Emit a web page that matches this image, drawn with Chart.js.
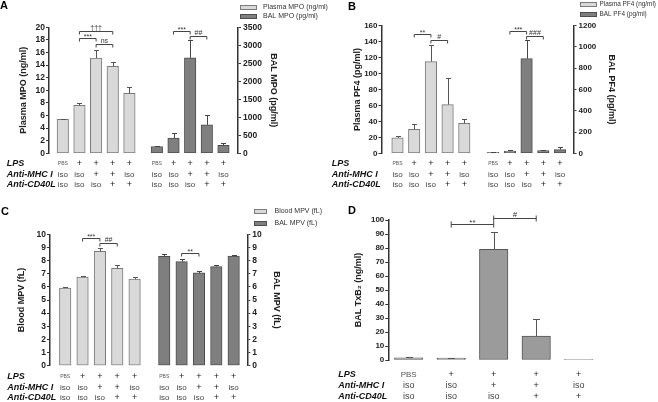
<!DOCTYPE html>
<html><head><meta charset="utf-8">
<script src="https://cdn.jsdelivr.net/npm/chart.js@4.4.1/dist/chart.umd.min.js"></script>
<style>
html,body{margin:0;padding:0;background:#fff;}
#fig{position:relative;width:658px;height:402px;overflow:hidden;background:#fff;}
#fig canvas{position:absolute;left:0;top:0;}
</style></head><body>
<div id="fig">
<canvas id="cA" width="658" height="402"></canvas>
<canvas id="cB" width="658" height="402"></canvas>
<canvas id="cC" width="658" height="402"></canvas>
<canvas id="cD" width="658" height="402"></canvas>
</div>
<script>
// ---------- data ----------
const rowLabels = ['LPS', 'Anti-MHC I', 'Anti-CD40L'];
const lpsRow   = ['PBS', '+', '+', '+', '+'];
const mhcRow   = ['iso', 'iso', '+', '+', 'iso'];
const cd40lRow = ['iso', 'iso', 'iso', '+', '+'];

// Panel A
const plasmaMPO    = [5.4, 7.6, 15.1, 13.8, 9.5];
const plasmaMPOErr = [0.1, 0.4, 1.3, 0.7, 1.1];
const balMPO       = [190, 420, 2650, 790, 220];
const balMPOErr    = [20, 140, 510, 270, 80];
const mpoLeftTicks  = [0, 2, 4, 6, 8, 10, 12, 14, 16, 18, 20];
const mpoRightTicks = [0, 500, 1000, 1500, 2000, 2500, 3000, 3500];
const mpoBrackets = [
  {series: 0, from: 1, to: 3, at: 19.4, text: '†††'},
  {series: 0, from: 1, to: 2, at: 18.25, text: '***'},
  {series: 0, from: 2, to: 3, at: 17.3, text: 'ns'},
  {series: 1, from: 1, to: 2, at: 3397, text: '***'},
  {series: 1, from: 2, to: 3, at: 3258, text: '##'}
];

// Panel B
const plasmaPF4    = [19.5, 30, 115, 61, 37.5];
const plasmaPF4Err = [2, 7, 21, 33, 5.5];
const balPF4       = [8, 22, 890, 25, 35];
const balPF4Err    = [3, 8, 175, 8, 25];
const pf4LeftTicks  = [0, 20, 40, 60, 80, 100, 120, 140, 160];
const pf4RightTicks = [0, 200, 400, 600, 800, 1000, 1200];
const pf4Brackets = [
  {series: 0, from: 1, to: 2, at: 149.3, text: '**'},
  {series: 0, from: 2, to: 3, at: 142.2, text: '#'},
  {series: 1, from: 1, to: 2, at: 1153, text: '***'},
  {series: 1, from: 2, to: 3, at: 1106, text: '###'}
];

// Panel C
const bloodMPV    = [5.91, 6.75, 8.71, 7.41, 6.60];
const bloodMPVErr = [0.07, 0.07, 0.26, 0.24, 0.12];
const balMPV      = [8.32, 7.92, 7.06, 7.54, 8.35];
const balMPVErr   = [0.15, 0.22, 0.12, 0.1, 0.05];
const mpvTicks    = [0, 1, 2, 3, 4, 5, 6, 7, 8, 9, 10];
const mpvBrackets = [
  {series: 0, from: 1, to: 2, at: 9.74, text: '***'},
  {series: 0, from: 2, to: 3, at: 9.36, text: '##'},
  {series: 1, from: 1, to: 2, at: 8.6, text: '**'}
];

// Panel D
const balTxB2    = [1.5, 1.3, 79, 17, 0.3];
const balTxB2Err = [0.5, 0.4, 12.5, 12, 0];
const txbTicks   = [0, 10, 20, 30, 40, 50, 60, 70, 80, 90, 100];
const txbBrackets = [
  {series: 0, from: 1, to: 2, at: 97.1, text: '**'},
  {series: 0, from: 2, to: 3, at: 101.2, text: '#'}
];

// ---------- styling / layout ----------
const FONT = '"Liberation Sans", Arial, Helvetica, sans-serif';
const W = 658;
const LIGHT = {fill: '#d9d9d9', border: '#7a7a7a', err: '#555'};
const DARK  = {fill: '#7f7f7f', border: '#4d4d4d', err: '#444'};
const MID   = {fill: '#9b9b9b', border: '#555', err: '#555'};
const TITLE_SIZE = 9;
const rows = [lpsRow, mhcRow, cd40lRow];

function annotPlugin(spec) {
  return {
    id: 'annot',
    afterDraw(chart) {
      const ctx = chart.ctx;
      const xs = chart.scales.x;
      ctx.save();
      // error bars
      spec.series.forEach(s => {
        const ys = chart.scales[s.axis];
        s.values.forEach((v, i) => {
          const e = s.errs[i];
          if (!e) return;
          const x = Math.round(xs.getPixelForValue(s.start + i)) + 0.5;
          const yTop = ys.getPixelForValue(v);
          const yE = Math.round(ys.getPixelForValue(v + e)) + 0.5;
          ctx.strokeStyle = s.style.err; ctx.lineWidth = 1;
          ctx.beginPath();
          ctx.moveTo(x, yTop); ctx.lineTo(x, yE);
          ctx.moveTo(x - spec.capW / 2, yE); ctx.lineTo(x + spec.capW / 2, yE);
          ctx.stroke();
        });
      });
      // significance brackets
      spec.brackets.forEach(b => {
        const s = spec.series[b.series];
        const ys = chart.scales[s.axis];
        const x1 = xs.getPixelForValue(s.start + b.from);
        const x2 = xs.getPixelForValue(s.start + b.to);
        const y = Math.round(ys.getPixelForValue(b.at)) + 0.5;
        ctx.strokeStyle = '#444'; ctx.lineWidth = 1;
        ctx.beginPath();
        ctx.moveTo(x1, y); ctx.lineTo(x2, y);
        if (spec.bracketStyle === 'I') {
          ctx.moveTo(x1, y - 3); ctx.lineTo(x1, y + 3);
          ctx.moveTo(x2, y - 3); ctx.lineTo(x2, y + 3);
        } else {
          ctx.moveTo(x1, y); ctx.lineTo(x1, y + 3);
          ctx.moveTo(x2, y); ctx.lineTo(x2, y + 3);
        }
        ctx.stroke();
        ctx.fillStyle = '#333';
        ctx.font = spec.bracketFont;
        ctx.textAlign = 'center'; ctx.textBaseline = 'alphabetic';
        const lift = (b.text.indexOf('*') >= 0) ? 0 : 2;
        ctx.fillText(b.text, (x1 + x2) / 2, y - lift);
      });
      // treatment table
      rows.forEach((row, r) => {
        const y = spec.rowY[r];
        ctx.font = spec.rowLabelFont; ctx.fillStyle = '#111';
        ctx.textAlign = 'left'; ctx.textBaseline = 'middle';
        ctx.fillText(rowLabels[r], spec.rowLabelX, y);
        spec.series.forEach(s => {
          row.forEach((t, i) => {
            const x = xs.getPixelForValue(s.start + i);
            ctx.textAlign = 'center';
            if (t === 'PBS') { ctx.font = spec.pbsFont; ctx.fillStyle = '#555'; }
            else if (t === '+') { ctx.font = spec.plusFont; ctx.fillStyle = '#222'; }
            else { ctx.font = spec.isoFont; ctx.fillStyle = '#444'; }
            ctx.fillText(t, x, y);
          });
        });
      });
      // legend
      if (spec.legend) {
        const L = spec.legend;
        spec.series.forEach((s, k) => {
          const y = L.ys[k];
          ctx.fillStyle = s.style.fill; ctx.strokeStyle = s.style.border; ctx.lineWidth = 1;
          ctx.fillRect(L.boxX, Math.round(y - L.boxH / 2), L.boxW, L.boxH);
          ctx.strokeRect(L.boxX + 0.5, Math.round(y - L.boxH / 2) + 0.5, L.boxW - 1, L.boxH - 1);
          ctx.fillStyle = '#333'; ctx.font = L.font + 'px ' + FONT;
          ctx.textAlign = 'left'; ctx.textBaseline = 'middle';
          ctx.fillText(s.label, L.textX, y);
        });
      }
      // panel letter
      ctx.fillStyle = '#000'; ctx.font = 'bold 11px ' + FONT;
      ctx.textAlign = 'left'; ctx.textBaseline = 'top';
      ctx.fillText(spec.letter.text, spec.letter.x, spec.letter.y);
      ctx.restore();
    }
  };
}

function yAxis(pos, ticks, title, width, tickPad, tickSize) {
  return {
    position: pos, min: ticks[0], max: ticks[ticks.length - 1],
    afterBuildTicks: s => { s.ticks = ticks.map(v => ({value: v})); },
    afterFit: s => { s.width = width; },
    ticks: {font: {family: FONT, size: tickSize, weight: 'bold'}, color: '#222', padding: tickPad,
            autoSkip: false, callback: v => String(v)},
    grid: {display: true, drawOnChartArea: false, drawTicks: true, tickLength: 3, color: '#333', tickColor: '#333', tickWidth: 1},
    border: {display: true, color: '#333', width: 1.5},
    title: {display: true, text: title, color: '#222', padding: 0,
            font: {family: FONT, size: TITLE_SIZE, weight: 'bold'}}
  };
}

function buildPanel(spec) {
  const lh = TITLE_SIZE * 1.2;
  const padLeft = spec.leftTitleX - lh / 2;
  const yLW = spec.leftAxisX - padLeft;
  const rightSeries = spec.series.find(s => s.axis === 'yR');
  let padRight, yRW, rightEdge;
  if (rightSeries) {
    const re = spec.rightTitleX + lh / 2;
    padRight = W - re; yRW = re - spec.rightAxisX; rightEdge = spec.rightAxisX;
  } else {
    padRight = W - spec.plotRight; rightEdge = spec.plotRight;
  }
  const xmin = (spec.leftAxisX - spec.x0) / spec.unit;
  const xmax = (rightEdge - spec.x0) / spec.unit;
  const scales = {
    x: {type: 'linear', min: xmin, max: xmax, display: false, offset: false, bounds: 'data',
        afterBuildTicks: s => { s.min = xmin; s.max = xmax; s.ticks = [{value: xmin}, {value: xmax}]; }},
    yL: yAxis('left', spec.leftTicks, spec.leftTitle, yLW, 1, spec.tickSize)
  };
  if (rightSeries) scales.yR = yAxis('right', spec.rightTicks, spec.rightTitle, yRW, 2, spec.tickSize);
  const datasets = spec.series.map(s => ({
    label: s.label,
    data: s.values.map((v, i) => ({x: s.start + i, y: v})),
    yAxisID: s.axis,
    backgroundColor: s.style.fill, borderColor: s.style.border,
    borderWidth: 1, borderSkipped: false,
    barThickness: spec.barW, maxBarThickness: spec.barW, grouped: false
  }));
  new Chart(document.getElementById(spec.canvas), {
    type: 'bar',
    data: {datasets},
    options: {
      responsive: false, animation: false, devicePixelRatio: 1,
      layout: {padding: {left: padLeft, right: padRight, top: spec.top, bottom: 402 - spec.bottom}},
      plugins: {legend: {display: false}, tooltip: {enabled: false}},
      scales
    },
    plugins: [annotPlugin(spec)]
  });
}

const smallTable = {
  rowLabelFont: 'bold italic 9px ' + FONT,
  pbsFont: '5px ' + FONT, plusFont: '9px ' + FONT, isoFont: '8px ' + FONT,
  bracketFont: '7px ' + FONT, capW: 5, barW: 11.5
};

buildPanel(Object.assign({}, smallTable, {
  canvas: 'cA', letter: {text: 'A', x: 0, y: 0}, tickSize: 8.5,
  leftAxisX: 49, rightAxisX: 238, top: 27.3, bottom: 153.3,
  leftTitleX: 23.3, rightTitleX: 273.3,
  x0: 62.8, unit: 16.65,
  leftTicks: mpoLeftTicks, rightTicks: mpoRightTicks,
  leftTitle: 'Plasma MPO (ng/ml)', rightTitle: 'BAL MPO (pg/ml)',
  series: [
    {label: 'Plasma MPO (ng/ml)', values: plasmaMPO, errs: plasmaMPOErr, axis: 'yL', start: 0, style: LIGHT},
    {label: 'BAL MPO (pg/ml)', values: balMPO, errs: balMPOErr, axis: 'yR', start: 5.65, style: DARK}
  ],
  brackets: mpoBrackets,
  rowY: [164, 175, 185], rowLabelX: 6.7,
  legend: {boxX: 240, boxW: 17, boxH: 5, textX: 263, ys: [7.3, 16], font: 7}
}));

buildPanel(Object.assign({}, smallTable, {
  canvas: 'cB', letter: {text: 'B', x: 348, y: 1}, tickSize: 8,
  leftAxisX: 381.5, rightAxisX: 573.5, top: 25.7, bottom: 153.3,
  leftTitleX: 357.5, rightTitleX: 611,
  x0: 397.5, unit: 16.7,
  leftTicks: pf4LeftTicks, rightTicks: pf4RightTicks,
  leftTitle: 'Plasma PF4 (pg/ml)', rightTitle: 'BAL PF4 (pg/ml)',
  series: [
    {label: 'Plasma PF4 (ng/ml)', values: plasmaPF4, errs: plasmaPF4Err, axis: 'yL', start: 0, style: LIGHT},
    {label: 'BAL PF4 (pg/ml)', values: balPF4, errs: balPF4Err, axis: 'yR', start: 5.73, style: DARK}
  ],
  brackets: pf4Brackets,
  rowY: [164, 174.7, 184.3], rowLabelX: 331.7,
  legend: {boxX: 580, boxW: 17, boxH: 5, textX: 599.5, ys: [4.7, 14.3], font: 6.4}
}));

buildPanel(Object.assign({}, smallTable, {
  canvas: 'cC', letter: {text: 'C', x: 1, y: 206}, tickSize: 8.5,
  leftAxisX: 50, rightAxisX: 247.3, top: 234.3, bottom: 365.7,
  leftTitleX: 21.7, rightTitleX: 276.7,
  x0: 65.2, unit: 17.35,
  leftTicks: mpvTicks, rightTicks: mpvTicks,
  leftTitle: 'Blood MPV (fL)', rightTitle: 'BAL MPV (fL)',
  series: [
    {label: 'Blood MPV (fL)', values: bloodMPV, errs: bloodMPVErr, axis: 'yL', start: 0, style: LIGHT},
    {label: 'BAL MPV (fL)', values: balMPV, errs: balMPVErr, axis: 'yR', start: 5.71, style: DARK}
  ],
  brackets: mpvBrackets,
  rowY: [376.7, 387.7, 397.7], rowLabelX: 7.3,
  legend: {boxX: 254, boxW: 13, boxH: 5, textX: 274.5, ys: [211, 223.3], font: 7}
}));

buildPanel({
  canvas: 'cD', letter: {text: 'D', x: 348, y: 205}, tickSize: 8,
  rowLabelFont: 'bold italic 9px ' + FONT,
  pbsFont: '8px ' + FONT, plusFont: '9px ' + FONT, isoFont: '9px ' + FONT,
  bracketFont: '8px ' + FONT, capW: 7, barW: 28.5, bracketStyle: 'I',
  leftAxisX: 388.3, plotRight: 600, top: 220, bottom: 360,
  leftTitleX: 358.3,
  x0: 408.7, unit: 42.5,
  leftTicks: txbTicks,
  leftTitle: 'BAL TxB₂ (ng/ml)',
  series: [
    {label: 'BAL TxB2', values: balTxB2, errs: balTxB2Err, axis: 'yL', start: 0, style: MID}
  ],
  brackets: txbBrackets,
  rowY: [375, 386, 396.7], rowLabelX: 338.3
});
</script>
</body></html>
